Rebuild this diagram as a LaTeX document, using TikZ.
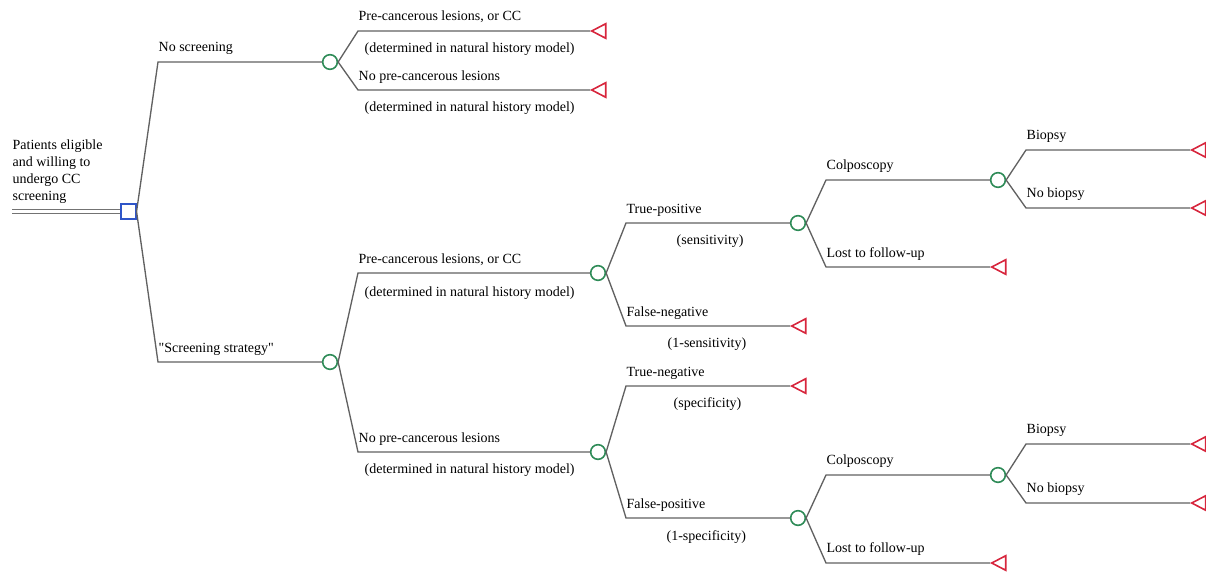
\documentclass[tikz,border=0pt]{standalone}
\usepackage{fontspec}
\setmainfont{Liberation Serif}[Ligatures=TeXOff]
\usetikzlibrary{shapes.geometric,positioning}

\definecolor{chancegreen}{HTML}{2E8B57}
\definecolor{termred}{HTML}{D7263D}
\definecolor{decblue}{HTML}{2F55C8}

\begin{document}
\begin{tikzpicture}[
    x=0.75pt, y=-0.75pt,
    line width=1pt,
    font=\fontsize{10.5}{12.75}\selectfont,
    every node/.style={inner sep=0pt},
    branch/.style={draw=black!62},
    root/.style={draw=black!55, double=white, double distance=2.6pt, line width=0.9pt},
    decision/.style={draw=decblue, rectangle, fill=white, minimum size=11pt, line width=1.1pt},
    chance/.style={draw=chancegreen, circle, fill=white, minimum size=11pt, line width=1.2pt},
    terminal/.style={draw=termred, isosceles triangle, shape border rotate=180,
        isosceles triangle apex angle=55, minimum size=10.5pt, line width=1.2pt, anchor=apex},
    lab/.style={anchor=base west}
]
\useasboundingbox (0,0) rectangle (1206,571);

% Decision and chance nodes
\node[decision]  (DEC) at (128.5,211.5) {};
\node[chance]    (C1)  at (330,62)  {};
\node[chance]    (C2)  at (330,362) {};
\node[chance]    (C3)  at (598,273) {};
\node[chance]    (C4)  at (598,452) {};
\node[chance]    (C5)  at (798,223) {};
\node[chance]    (C6)  at (998,180) {};
\node[chance]    (C7)  at (798,518) {};
\node[chance]    (C8)  at (998,475) {};

% Terminal nodes
\node[terminal] (T1)  at (590,31)  {};
\node[terminal] (T2)  at (590,90)  {};
\node[terminal] (T3)  at (790,326) {};
\node[terminal] (T4)  at (990,267) {};
\node[terminal] (T5)  at (1190,150) {};
\node[terminal] (T6)  at (1190,208) {};
\node[terminal] (T7)  at (790,386) {};
\node[terminal] (T8)  at (990,563) {};
\node[terminal] (T9)  at (1190,444) {};
\node[terminal] (T10) at (1190,503) {};

% Root
\node[anchor=north west, align=left] (START) at (12,139)
    {Patients eligible\\and willing to\\undergo CC\\screening};
\coordinate (IN) at (12,211.5);
\draw[root] (IN) -- (DEC.west);

% Branches
\draw[branch] (DEC.east) -- (158,62)  -- (C1.west);
\draw[branch] (DEC.east) -- (158,362) -- (C2.west);
\draw[branch] (C1.east) -- (358,31)  -- (T1.apex);
\draw[branch] (C1.east) -- (358,90)  -- (T2.apex);
\draw[branch] (C2.east) -- (358,273) -- (C3.west);
\draw[branch] (C2.east) -- (358,452) -- (C4.west);
\draw[branch] (C3.east) -- (626,223) -- (C5.west);
\draw[branch] (C3.east) -- (626,326) -- (T3.apex);
\draw[branch] (C5.east) -- (826,180) -- (C6.west);
\draw[branch] (C5.east) -- (826,267) -- (T4.apex);
\draw[branch] (C6.east) -- (1026,150) -- (T5.apex);
\draw[branch] (C6.east) -- (1026,208) -- (T6.apex);
\draw[branch] (C4.east) -- (626,386) -- (T7.apex);
\draw[branch] (C4.east) -- (626,518) -- (C7.west);
\draw[branch] (C7.east) -- (826,475) -- (C8.west);
\draw[branch] (C7.east) -- (826,563) -- (T8.apex);
\draw[branch] (C8.east) -- (1026,444) -- (T9.apex);
\draw[branch] (C8.east) -- (1026,503) -- (T10.apex);

% Labels
\node[lab] (L1)  at (158,51)   {No screening};
\node[lab] (L2)  at (158,352)  {"Screening strategy"};
\node[lab] (L3)  at (358,21)   {Pre-cancerous lesions, or CC};
\node[lab] (L4)  at (364,52)   {(determined in natural history model)};
\node[lab] (L5)  at (358,80)   {No pre-cancerous lesions};
\node[lab] (L6)  at (364,111)  {(determined in natural history model)};
\node[lab] (L7)  at (358,263)  {Pre-cancerous lesions, or CC};
\node[lab] (L8)  at (364,296)  {(determined in natural history model)};
\node[lab] (L9)  at (358,442)  {No pre-cancerous lesions};
\node[lab] (L10) at (364,473)  {(determined in natural history model)};
\node[lab] (L11) at (626,213)  {True-positive};
\node[lab] (L12) at (676,244)  {(sensitivity)};
\node[lab] (L13) at (626,316)  {False-negative};
\node[lab] (L14) at (667,347)  {(1-sensitivity)};
\node[lab] (L15) at (626,376)  {True-negative};
\node[lab] (L16) at (673,407)  {(specificity)};
\node[lab] (L17) at (626,508)  {False-positive};
\node[lab] (L18) at (666,540)  {(1-specificity)};
\node[lab] (L19) at (826,169)  {Colposcopy};
\node[lab] (L20) at (826,257)  {Lost to follow-up};
\node[lab] (L21) at (826,464)  {Colposcopy};
\node[lab] (L22) at (826,552)  {Lost to follow-up};
\node[lab] (L23) at (1026,139) {Biopsy};
\node[lab] (L24) at (1026,197) {No biopsy};
\node[lab] (L25) at (1026,433) {Biopsy};
\node[lab] (L26) at (1026,492) {No biopsy};

\end{tikzpicture}
\end{document}
